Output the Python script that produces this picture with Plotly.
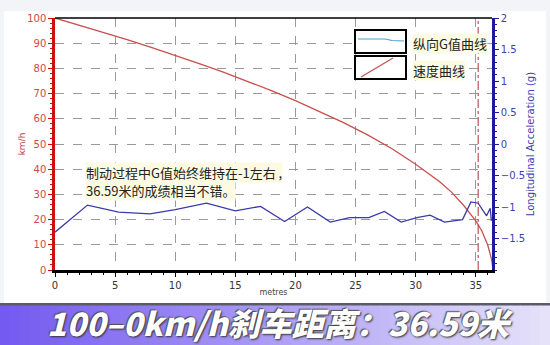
import plotly.graph_objects as go

# ---- data ----
dist = [0, 2, 4, 6, 8, 10, 12, 14, 16, 18, 20, 22, 24, 26, 28, 30, 31, 32, 33, 34, 35, 35.5, 36, 36.3, 36.45]
speed = [100, 97.2, 94.3, 91.4, 88.3, 85.2, 81.9, 78.5, 74.9, 71.2, 67.2, 63.0, 58.5, 53.6, 48.2, 42.0,
         38.6, 35.0, 30.8, 25.6, 19.5, 15.6, 9.8, 4.5, 0]

g_dist = [0, 2.7, 5.3, 7.9, 10.0, 12.6, 15.0, 17.1, 19.1, 21.0, 22.9, 24.5, 26.1, 27.4, 28.8, 30.1,
          31.2, 32.4, 33.9, 34.6, 35.2, 35.9, 36.2, 36.3]
g_val = [-1.40, -0.97, -1.08, -1.11, -1.04, -0.94, -1.06, -0.99, -1.23, -1.00, -1.24, -1.17, -1.17,
         -1.07, -1.24, -1.17, -1.13, -1.24, -1.20, -0.92, -0.94, -1.14, -1.02, -1.22]

x_ticks = [0, 5, 10, 15, 20, 25, 30, 35]
left_ticks = [0, 10, 20, 30, 40, 50, 60, 70, 80, 90, 100]
right_ticks = [-1.5, -1, -0.5, 0, 0.5, 1, 1.5, 2]

legend_labels = ["纵向G值曲线", "速度曲线"]
note_lines = ["制动过程中G值始终维持在-1左右 ,", "36.59米的成绩相当不错。"]
banner_text = "100–0km/h刹车距离：36.59米"
marker_x = 35.2

W, H = 550, 345
L, R, T, B = 55, 58, 18, 75
PW, PH = W - L - R, H - T - B


def px(x):
    return (x - L) / PW


def py(y):
    return (H - B - y) / PH


fig = go.Figure()
fig.add_trace(go.Scatter(x=dist, y=speed, mode="lines", line=dict(color="#c8504e", width=1.3),
                         showlegend=False, hoverinfo="skip"))
fig.add_trace(go.Scatter(x=g_dist, y=g_val, mode="lines", yaxis="y2",
                         line=dict(color="#3a3aa8", width=1.3), showlegend=False, hoverinfo="skip"))

shapes = []
# white panel
shapes.append(dict(type="rect", xref="paper", yref="paper", x0=px(4), x1=px(546), y0=py(303), y1=py(11),
                   fillcolor="white", line=dict(width=0), layer="below"))
# marker line
shapes.append(dict(type="line", xref="x", yref="paper", x0=marker_x, x1=marker_x, y0=0, y1=1,
                   line=dict(color="#b03030", width=1, dash="dashdot")))
# top border
shapes.append(dict(type="line", xref="paper", yref="paper", x0=0, x1=1, y0=1, y1=1,
                   line=dict(color="black", width=1.5)))
# legend boxes
for (y0, y1) in [(30, 53), (56, 79)]:
    shapes.append(dict(type="rect", xref="paper", yref="paper", x0=px(355), x1=px(406), y0=py(y1), y1=py(y0),
                       fillcolor="white", line=dict(color="black", width=2)))
pts = [(358, 39), (385, 39), (392, 40.5), (404, 41)]
path = "M " + " L ".join(f"{px(a)},{py(b)}" for a, b in pts)
shapes.append(dict(type="path", xref="paper", yref="paper", path=path, line=dict(color="#4a9fd4", width=1.2)))
shapes.append(dict(type="line", xref="paper", yref="paper", x0=px(361), x1=px(393), y0=py(77), y1=py(58),
                   line=dict(color="#c8504e", width=1.2)))
# banner
shapes.append(dict(type="rect", xref="paper", yref="paper", x0=px(0), x1=px(550), y0=py(345), y1=py(303),
                   fillcolor="#5a5a68", line=dict(width=0)))
n = 55
c0 = (116, 90, 240)
c1 = (230, 226, 250)
for i in range(n):
    t = i / (n - 1)
    c = tuple(int(c0[k] + (c1[k] - c0[k]) * t) for k in range(3))
    xa = 550 * i / n
    xb = 550 * (i + 1) / n + 0.6
    shapes.append(dict(type="rect", xref="paper", yref="paper", x0=px(xa), x1=px(xb), y0=py(345), y1=py(305.5),
                       fillcolor=f"rgb{c}", line=dict(width=0)))

cjk = "Noto Sans CJK SC"
annotations = [
    dict(xref="paper", yref="paper", x=px(412), y=py(44), text=legend_labels[0], showarrow=False,
         xanchor="left", yanchor="middle", bgcolor="#fcfbe2", borderpad=0,
         font=dict(family=cjk, size=13, color="#222")),
    dict(xref="paper", yref="paper", x=px(412), y=py(70), text=legend_labels[1], showarrow=False,
         xanchor="left", yanchor="middle", bgcolor="#fcfbe2", borderpad=0,
         font=dict(family=cjk, size=13, color="#222")),
    dict(xref="paper", yref="paper", x=px(85), y=py(172), text=note_lines[0], showarrow=False,
         xanchor="left", yanchor="middle", bgcolor="#fcfbe2", borderpad=0,
         font=dict(family=cjk, size=13, color="#222")),
    dict(xref="paper", yref="paper", x=px(85), y=py(190.5), text=note_lines[1], showarrow=False,
         xanchor="left", yanchor="middle", bgcolor="#fcfbe2", borderpad=0,
         font=dict(family=cjk, size=13, color="#222")),
    dict(xref="paper", yref="paper", x=px(280), y=py(321.5), text=banner_text, showarrow=False,
         xanchor="center", yanchor="middle", borderpad=0,
         font=dict(family=cjk, size=32, color="white", weight=900, style="italic",
                   shadow="1px 1px 2px #333, -1px -1px 1px #555")),
]

fig.update_layout(
    width=W, height=H, margin=dict(l=L, r=R, t=T, b=B),
    paper_bgcolor="#f3f4f8", plot_bgcolor="white",
    shapes=shapes, annotations=annotations,
    xaxis=dict(range=[0, 36.35], tickvals=x_ticks, showgrid=True, gridcolor="#9a9a9a", griddash="dash",
               gridwidth=1, zeroline=False, showline=True, linecolor="black", linewidth=2.5,
               ticks="outside", ticklen=4, tickcolor="black",
               minor=dict(dtick=1, ticks="outside", ticklen=2, tickcolor="black", showgrid=False),
               tickfont=dict(family="DejaVu Sans", size=10, color="#333"),
               title=dict(text="metres", font=dict(family="DejaVu Sans", size=8, color="#444"), standoff=0)),
    yaxis=dict(range=[0, 100], tickvals=left_ticks, showgrid=True, gridcolor="#9a9a9a", griddash="dash",
               gridwidth=1, zeroline=False, showline=True, linecolor="#cc1010", linewidth=2.5,
               ticks="outside", ticklen=4, tickcolor="#cc1010",
               minor=dict(dtick=2, ticks="outside", ticklen=2, tickcolor="#cc1010", showgrid=False),
               tickfont=dict(family="DejaVu Sans", size=10, color="#d04848"),
               title=dict(text="km/h", font=dict(family="DejaVu Sans", size=9, color="#c04040"), standoff=1)),
    yaxis2=dict(range=[-2, 2], tickvals=right_ticks, overlaying="y", side="right", showgrid=False,
                zeroline=False, showline=True, linecolor="#1c1c9a", linewidth=2.5,
                ticks="outside", ticklen=4, tickcolor="#1c1c9a",
                minor=dict(dtick=0.1, ticks="outside", ticklen=2, tickcolor="#1c1c9a", showgrid=False),
                tickfont=dict(family="DejaVu Sans", size=10, color="#4040b0"),
                title=dict(text="Longitudinal Acceleration (g)",
                           font=dict(family="DejaVu Sans", size=10, color="#4040b0"), standoff=1)),
)

fig.write_html("out.html")
